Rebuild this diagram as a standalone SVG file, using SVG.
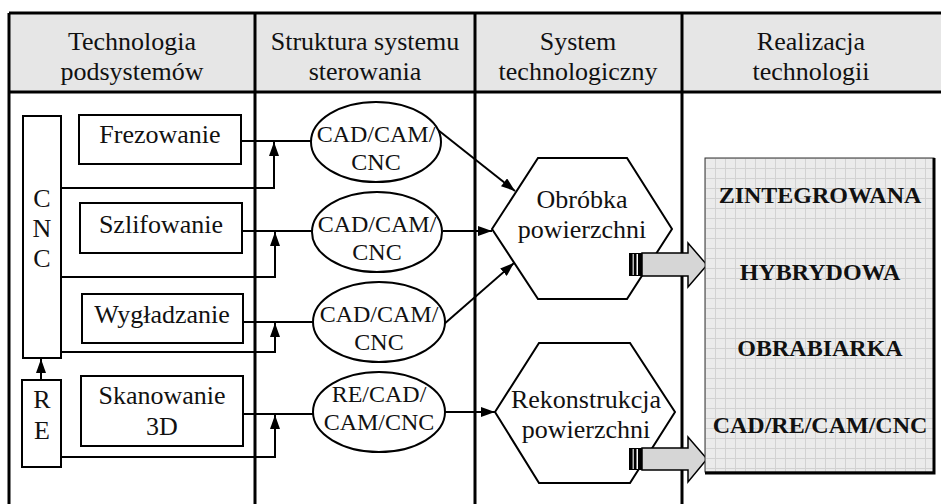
<svg xmlns="http://www.w3.org/2000/svg" width="941" height="504" viewBox="0 0 941 504">
<defs>
<style>
text{font-family:"Liberation Serif","Tinos","DejaVu Serif","Times New Roman",serif;fill:#111;text-anchor:middle}
.t{font-size:26px}
.e{font-size:24px}
.b{font-size:24px;font-weight:bold}
.thick{stroke:#000;stroke-width:3;fill:none}
.box{fill:#fff;stroke:#000;stroke-width:2}
.ln{fill:none;stroke:#000;stroke-width:2}
.blk{fill:#d6d6d6;stroke:#000;stroke-width:1.5}
</style>
<marker id="ah" viewBox="0 0 14 10" refX="14" refY="5" markerWidth="14" markerHeight="10" markerUnits="userSpaceOnUse" orient="auto">
<path d="M0,0 L14,5 L0,10 Z" fill="#000"/>
</marker>
<pattern id="grid" width="10" height="10" patternUnits="userSpaceOnUse" x="705" y="158">
<rect width="10" height="10" fill="#ebebeb"/>
<path d="M0,0.5 H10 M0.5,0 V10" stroke="#d2d2d2" stroke-width="1"/>
</pattern>
</defs>
<rect width="941" height="504" fill="#fff"/>
<g font-family="Liberation Serif, Tinos, DejaVu Serif, serif">
<g id="table">
<rect x="9" y="13" width="932" height="79" fill="#e6e6e6"/>
<path class="thick" d="M9,13 H941 M9,92 H941 M9,13 V504 M255,13 V504 M475,13 V504 M682,13 V504"/>
<text class="t" x="132" y="50">Technologia</text>
<text class="t" x="132" y="80">podsystemów</text>
<text class="t" x="365" y="50">Struktura systemu</text>
<text class="t" x="365" y="80">sterowania</text>
<text class="t" x="578" y="50">System</text>
<text class="t" x="578" y="80">technologiczny</text>
<text class="t" x="811" y="50">Realizacja</text>
<text class="t" x="811" y="80">technologii</text>
</g>
<g id="connectors">
<path class="ln" d="M241,141 H311"/>
<path class="ln" d="M242,231 H312"/>
<path class="ln" d="M243,322 H313"/>
<path class="ln" d="M243,414 H313"/>
<path class="ln" d="M61,188 H274 V142" marker-end="url(#ah)"/>
<path class="ln" d="M61,277 H275 V232" marker-end="url(#ah)"/>
<path class="ln" d="M61,352 H275 V323" marker-end="url(#ah)"/>
<path class="ln" d="M61,457 H275 V415" marker-end="url(#ah)"/>
<path class="ln" d="M41,380 V359" marker-end="url(#ah)"/>
<path class="ln" d="M438,130 L515,191" marker-end="url(#ah)"/>
<path class="ln" d="M443,231 H492" marker-end="url(#ah)"/>
<path class="ln" d="M443,325 L514,263" marker-end="url(#ah)"/>
<path class="ln" d="M445,412 H495" marker-end="url(#ah)"/>
</g>
<g id="cnc">
<rect class="box" x="23" y="116" width="38" height="242"/>
<text class="t" x="42" y="207">C</text>
<text class="t" x="42" y="237">N</text>
<text class="t" x="42" y="267">C</text>
</g>
<g id="re">
<rect class="box" x="22" y="380" width="39" height="87"/>
<text class="t" x="42" y="408">R</text>
<text class="t" x="42" y="439">E</text>
</g>
<g id="frezowanie">
<rect class="box" x="79" y="115" width="162" height="49"/>
<text class="t" x="160" y="143">Frezowanie</text>
</g>
<g id="szlifowanie">
<rect class="box" x="80" y="203" width="162" height="50"/>
<text class="t" x="161" y="233">Szlifowanie</text>
</g>
<g id="wygladzanie">
<rect class="box" x="82" y="294" width="161" height="49"/>
<text class="t" x="162" y="323">Wygładzanie</text>
</g>
<g id="skanowanie">
<rect class="box" x="81" y="376" width="162" height="70"/>
<text class="t" x="162" y="404">Skanowanie</text>
<text class="t" x="162" y="435">3D</text>
</g>
<g id="ctrl1">
<ellipse class="box" cx="376" cy="142" rx="65" ry="40"/>
<text class="e" x="376" y="142">CAD/CAM/</text>
<text class="e" x="376" y="170">CNC</text>
</g>
<g id="ctrl2">
<ellipse class="box" cx="377" cy="232" rx="65" ry="40"/>
<text class="e" x="377" y="232">CAD/CAM/</text>
<text class="e" x="377" y="260">CNC</text>
</g>
<g id="ctrl3">
<ellipse class="box" cx="379" cy="322" rx="66" ry="40"/>
<text class="e" x="379" y="322">CAD/CAM/</text>
<text class="e" x="379" y="350">CNC</text>
</g>
<g id="ctrl4">
<ellipse class="box" cx="379" cy="412" rx="66" ry="40"/>
<text class="e" x="379" y="402">RE/CAD/</text>
<text class="e" x="379" y="430">CAM/CNC</text>
</g>
<g id="obrobka">
<polygon class="box" points="492,229 538,158 627,158 672,229 627,299 538,299"/>
<text class="t" x="582" y="208">Obróbka</text>
<text class="t" x="582" y="238">powierzchni</text>
</g>
<g id="rekonstrukcja">
<polygon class="box" points="495,412 539,343 630,343 675,412 630,483 539,483"/>
<text class="t" x="586" y="408">Rekonstrukcja</text>
<text class="t" x="586" y="438">powierzchni</text>
</g>
<g id="arrow1">
<polygon class="blk" points="642,253 688,253 688,243 707,265 688,287 688,276 642,276"/>
<rect x="629" y="253" width="13" height="23" fill="#000"/>
<rect x="632.5" y="254" width="1.5" height="21" fill="#bbb"/>
<rect x="636.5" y="254" width="1.5" height="21" fill="#fff"/>
</g>
<g id="arrow2">
<polygon class="blk" points="642,448 688,448 688,437 707,459 688,482 688,470 642,470"/>
<rect x="629" y="448" width="13" height="22" fill="#000"/>
<rect x="632.5" y="449" width="1.5" height="20" fill="#bbb"/>
<rect x="636.5" y="449" width="1.5" height="20" fill="#fff"/>
</g>
<g id="result">
<rect x="705" y="158" width="229" height="314" fill="url(#grid)" stroke="#333" stroke-width="1"/>
<path d="M934,158 V473 H705" fill="none" stroke="#000" stroke-width="3"/>
<text class="b" x="820" y="203">ZINTEGROWANA</text>
<text class="b" x="820" y="280">HYBRYDOWA</text>
<text class="b" x="820" y="356">OBRABIARKA</text>
<text class="b" x="820" y="433">CAD/RE/CAM/CNC</text>
</g>
</g>
</svg>
